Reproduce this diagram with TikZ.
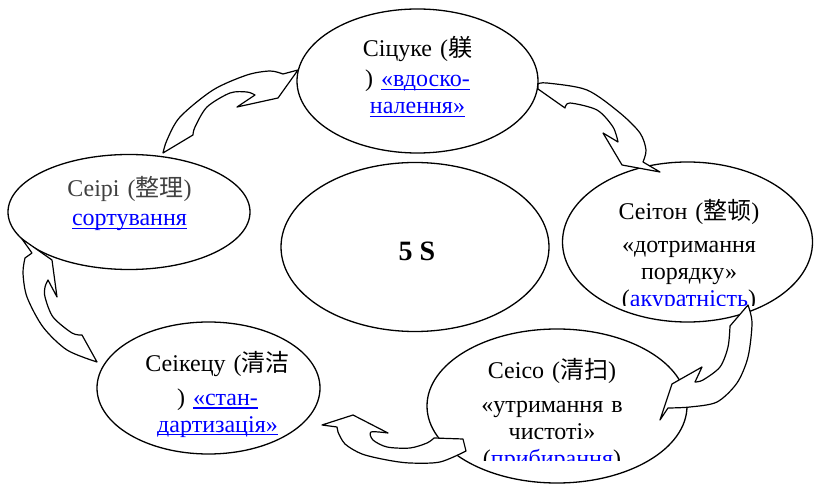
\documentclass[tikz,border=0pt]{standalone}
\usepackage{fontspec}
\setmainfont{Liberation Serif}
\newfontfamily\cjk{Noto Sans CJK SC}
\usepackage{tikz}
\usetikzlibrary{shapes.geometric}
\newcommand\lnk[1]{\leavevmode{\color{blue}\setbox0\hbox{#1}\rlap{\rule[-3.5pt]{\wd0}{1.3pt}}\box0}}
\newcommand\blu[1]{\textcolor{blue}{#1}}
\newcommand\hz[1]{{\cjk #1}}

\tikzset{
  stage/.style={draw, ellipse, fill=white, line width=1.3pt, inner sep=0pt, outer sep=0pt},
  stagetext/.style={anchor=base, align=center, text width=240pt, inner sep=0pt,
    font=\fontsize{24}{27}\selectfont},
  turn/.style={draw, fill=white, line width=1.2pt, line join=round},
}

\begin{document}
\begin{tikzpicture}[x=1pt, y=-1pt]
  \useasboundingbox (0,0) rectangle (814,486);

  %% the centre and the five stages
  \node[stage, minimum width=268pt, minimum height=169pt] (fives) at (415,247) {};
  \node[stage, minimum width=241pt, minimum height=144pt] (sitsuke) at (417.5,81) {};
  \node[stage, minimum width=250pt, minimum height=160pt] (seiton) at (687.5,242) {};
  \node[stage, minimum width=260pt, minimum height=154pt] (seiso) at (557,406) {};
  \node[stage, minimum width=223pt, minimum height=132pt] (seiketsu) at (208.5,388) {};
  \node[stage, minimum width=242pt, minimum height=115pt] (seiri) at (129,212) {};

  \node[font=\fontsize{28}{32}\selectfont\bfseries] (fives text) at (417,251) {5 S};

  \node[stagetext] (sitsuke text) at (417.5,57)
    {Сіцуке (\hz{躾}\\[3pt]) \lnk{«вдоско-}\\\lnk{налення»}};
  \node[stagetext] (seiri text) at (129.5,197)
    {\textcolor{black!75}{Сеірі (\hz{整理})}\\[2pt]\lnk{сортування}};
  \node[stagetext] (seiketsu text) at (217.5,371)
    {Сеікецу (\hz{清洁}\\[7pt]) \lnk{«стан-}\\\lnk{дартизація»}};

  % the last line is cut off in the text box
  \begin{scope}
    \clip (560,150) rectangle (814,305.5);
    \node[stagetext] (seiton text) at (689,220)
      {Сеітон (\hz{整顿})\\[6pt]«дотримання\\порядку»\\(\blu{акуратність})};
  \end{scope}
  \begin{scope}
    \clip (430,340) rectangle (690,460);
    \node[stagetext] (seiso text) at (552,378)
      {Сеісо (\hz{清扫})\\[7pt]«утримання в\\чистоті»\\(\blu{прибирання})};
  \end{scope}

  %% curved arrows, clockwise
  % seiri -> sitsuke
  \draw[turn] (163,153) -- plot[smooth] coordinates {(193,135) (195,127) (207,107) (230,93) (247,92) (255,95)}
    -- (237,107) -- (278,98) -- (298,70) -- (283,74)
    -- plot[smooth] coordinates {(283,74) (270,71) (247,75) (213,90) (180,117) (167,140) (163,153)} -- cycle;
  % sitsuke -> seiton
  \draw[turn] (538,84) -- (538,89) -- (565,108)
    -- plot[smooth] coordinates {(565,108) (570,103) (597,110) (613,127) (618,142)}
    -- (603,133) -- (622,165) -- (660,172) -- (643,162)
    -- plot[smooth] coordinates {(643,162) (646,150) (640,133) (620,113) (587,90) (547,83) (538,84)} -- cycle;
  % seiton -> seiso
  \draw[turn] (748,305) -- (730,326)
    -- plot[smooth] coordinates {(730,326) (728,347) (720,367) (703,380) (695,382)}
    -- (702,367) -- (672,384) -- (660,420) -- (668,408)
    -- plot[smooth] coordinates {(668,408) (690,407) (717,402) (737,383) (748,357) (752,323) (748,305)} -- cycle;
  % seiso -> seiketsu
  \draw[turn] (322,425) -- (353,415) -- (388,433)
    -- plot[smooth] coordinates {(388,433) (371,432) (373,440) (387,447) (410,448) (427,443) (434,438)}
    -- (463,439) -- (466,451)
    -- plot[smooth] coordinates {(466,451) (440,462) (410,463) (387,460) (362,454) (345,444) (338,432)}
    -- (337,427) -- cycle;
  % seiketsu -> seiri
  \draw[turn] (22,239) -- (32,253) -- (25,258)
    -- plot[smooth] coordinates {(25,258) (23,273) (27,297) (43,327) (67,350) (97,362)}
    -- (82,335)
    -- plot[smooth] coordinates {(82,335) (72,333) (53,317) (45,297) (45,287) (48,280)}
    -- (57,297) -- (52,260) -- cycle;
\end{tikzpicture}
\end{document}
